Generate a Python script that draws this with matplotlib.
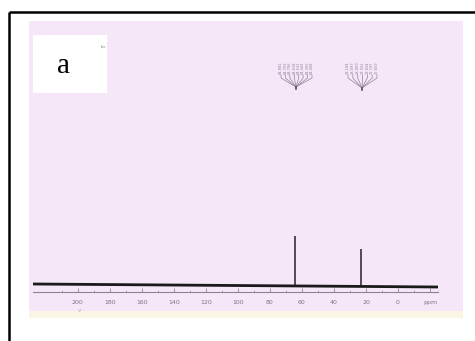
import numpy as np
import matplotlib
matplotlib.use("Agg")
from matplotlib import pyplot as plt
from matplotlib.patches import Rectangle

# spectrum data (ppm axis)
baseline_ppm = [228, -25]
baseline_level = [1.0, -2.0]
peak_ppm = [64.6, 22.9]
peak_height = [49, 36]

# axis ticks
tick_ppm = [200, 180, 160, 140, 120, 100, 80, 60, 40, 20, 0, -20]
tick_labels = ["200", "180", "160", "140", "120", "100", "80", "60", "40", "20", "0", "ppm"]
minor_ppm = [210, 190, 170, 150, 130, 110, 90, 70, 50, 30, 10, -10]

# peak list labels above the peaks
group1_labels = ["64.881", "64.793", "64.706", "64.618", "64.531", "64.443", "64.356", "64.268"]
group2_labels = ["23.184", "23.097", "23.009", "22.922", "22.834", "22.747", "22.659"]

W, H = 475, 341
fig = plt.figure(figsize=(W / 100, H / 100), dpi=100)
fig.patch.set_facecolor("white")

# background layer in pixel coordinates
bg = fig.add_axes([0, 0, 1, 1])
bg.set_xlim(0, W)
bg.set_ylim(H, 0)
bg.axis("off")

# scanned page (pink) and yellow strip at the bottom
bg.add_patch(Rectangle((29, 21), 434, 297, facecolor="#f6e7f8", edgecolor="none"))
bg.add_patch(Rectangle((29, 311), 434, 7, facecolor="#fbf6e4", edgecolor="none"))

# outer frame (only left and top visible)
bg.plot([9, 9], [12, H], color="black", lw=1.8, solid_capstyle="butt")
bg.plot([9, W], [12, 12], color="black", lw=1.8, solid_capstyle="butt")

# white label box with "a"
bg.add_patch(Rectangle((33, 35), 74, 58, facecolor="white", edgecolor="none"))
bg.text(64, 66, "a", fontsize=21, family="Liberation Serif", ha="center", va="center")
bg.text(101, 47, "ibe", fontsize=2.5, color="#8a7f8e", ha="left", va="center")
bg.text(79, 311, "v", fontsize=4, color="#b8a8c0", ha="center", va="center")

# peak label fans
def draw_fan(labels, x0, x1, xc, yc):
    xs = np.linspace(x0, x1, len(labels))
    for x, lab in zip(xs, labels):
        bg.text(x, 68, lab, fontsize=2.6, rotation=90, color="#8d8598",
                ha="center", va="center")
        bg.plot([x, x, xc], [75, 78, yc], color="#8d8598", lw=0.5)
    bg.plot([xc, xc], [yc, yc + 2], color="#555060", lw=1.2)

draw_fan(group1_labels, 281, 312, 296, 87)
draw_fan(group2_labels, 348, 377, 362, 88)

# spectrum axes: x maps 228 ppm -> 33 px, -25 ppm -> 438 px
ax = fig.add_axes([33 / W, (H - 292) / H, (438 - 33) / W, 62 / H])
ax.patch.set_alpha(0)
ax.set_xlim(228, -25)
ax.set_ylim(-7, 55)

ax.plot(baseline_ppm, baseline_level, color="#1a1a1a", lw=2.0)
ax.vlines(peak_ppm, 0, peak_height, color="#222222", lw=1.1)

for s in ["top", "left", "right"]:
    ax.spines[s].set_visible(False)
ax.spines["bottom"].set_color("#8c8494")
ax.spines["bottom"].set_linewidth(0.8)
ax.set_yticks([])
ax.set_xticks(tick_ppm)
ax.set_xticklabels(tick_labels)
ax.set_xticks(minor_ppm, minor=True)
ax.tick_params(axis="x", which="major", direction="in", length=3, width=0.6,
               color="#8c8494", labelsize=4.5, labelcolor="#7d7488", pad=6)
ax.tick_params(axis="x", which="minor", direction="in", length=1.5, width=0.5,
               color="#8c8494")

fig.savefig("out.png", dpi=100)
